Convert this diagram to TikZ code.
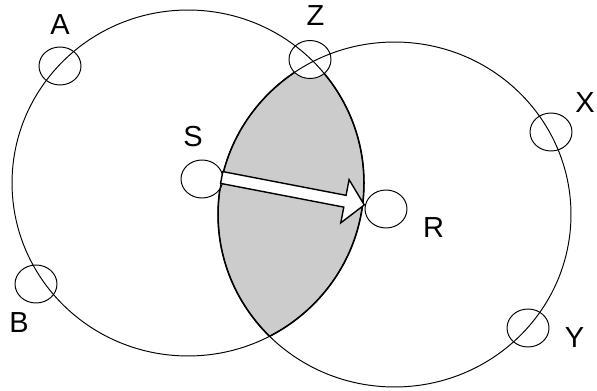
\documentclass[tikz,border=0pt]{standalone}
\usepackage{fontspec}
\setmainfont{Liberation Sans}
\usetikzlibrary{shapes.geometric}
\begin{document}
\begin{tikzpicture}[x=0.02cm,y=-0.02cm,
  big/.style={line width=0.55pt},
  port/.style={draw, ellipse, fill=white, line width=0.55pt, minimum width=0.84cm, minimum height=0.76cm, inner sep=0pt},
  lbl/.style={font=\fontsize{16.5}{18}\selectfont, inner sep=0pt},
  blockarrow/.style={draw, fill=white, line width=0.8pt, line join=miter}]
\useasboundingbox (0,0) rectangle (597,391);
\coordinate (CL) at (188,183);
\coordinate (CR) at (394.5,214.5);
% lens
\begin{scope}
  \clip (CL) ellipse [x radius=3.52cm, y radius=3.46cm];
  \fill[gray!40] (CR) ellipse [x radius=3.53cm, y radius=3.45cm];
  \draw[line width=0.9pt] (CR) ellipse [x radius=3.53cm, y radius=3.45cm];
\end{scope}
\begin{scope}
  \clip (CR) ellipse [x radius=3.53cm, y radius=3.45cm];
  \draw[line width=0.9pt] (CL) ellipse [x radius=3.52cm, y radius=3.46cm];
\end{scope}
% ports
\node[port] (A) at (60,66) {};
\node[port] (Z) at (310,59.5) {};
\node[port] (X) at (551,132) {};
\node[port] (B) at (36,284) {};
\node[port] (Y) at (528,328) {};
\node[port] (S) at (202,179) {};
\node[port] (R) at (386,209) {};
% circles
\draw[big] (CL) ellipse [x radius=3.52cm, y radius=3.46cm];
\draw[big] (CR) ellipse [x radius=3.53cm, y radius=3.45cm];
% block arrow from S to R
\begin{scope}[shift={(221.7,177.5)}, rotate=-10.9]
  \draw[blockarrow] (0,-6) -- (125.5,-6) -- (125.5,-22) -- (145.2,0) -- (125.5,22) -- (125.5,6) -- (0,6) -- cycle;
\end{scope}
% labels
\node[lbl] (lA) at (60,24.5) {A};
\node[lbl] (lZ) at (315.5,15.5) {Z};
\node[lbl] (lX) at (585,103) {X};
\node[lbl] (lS) at (193,137) {S};
\node[lbl] (lR) at (433.5,228) {R};
\node[lbl] (lB) at (19,323) {B};
\node[lbl] (lY) at (574.5,338) {Y};
\end{tikzpicture}
\end{document}
